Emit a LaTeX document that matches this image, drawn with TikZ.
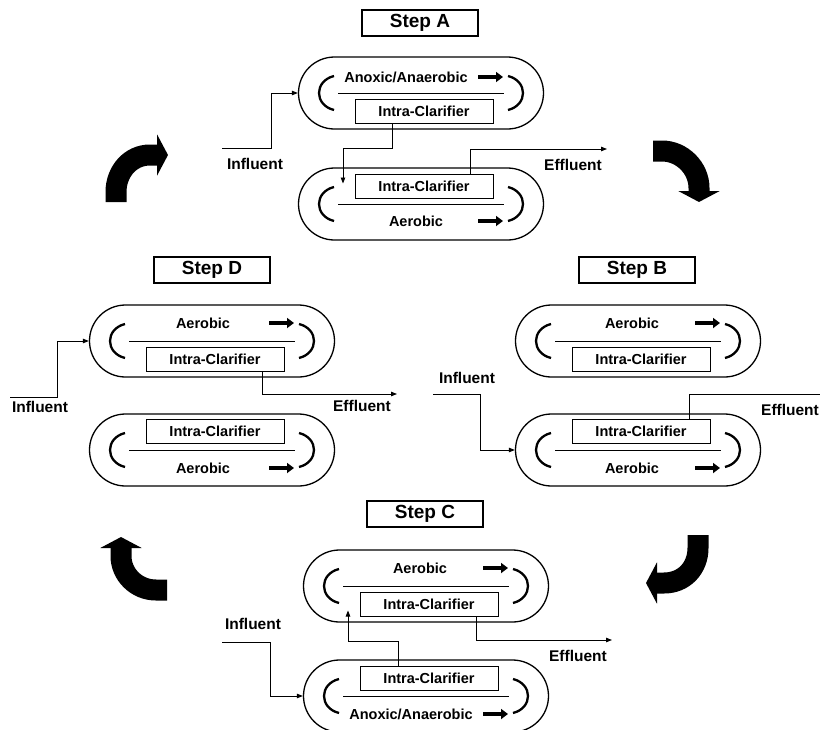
\documentclass[tikz,border=0pt]{standalone}
\usepackage{fontspec}
\setsansfont{Liberation Sans}
\usetikzlibrary{arrows.meta, shapes.misc}

\tikzset{
	basin/.style={
			rounded rectangle,
			draw=black,
			line width=1.3pt,
			minimum width=245pt,
			minimum height=72pt,
			inner sep=0pt
		},
	clarbox/.style={
			draw=black,
			line width=1pt,
			minimum width=138pt,
			minimum height=24pt,
			inner sep=0pt,
			font=\sffamily\bfseries\fontsize{14.5}{16}\selectfont
		},
	stepbox/.style={
			draw=black,
			line width=1.2pt,
			minimum width=116pt,
			minimum height=26pt,
			inner sep=0pt,
			font=\sffamily\bfseries\fontsize{19}{22}\selectfont
		},
	tanktext/.style={font=\sffamily\bfseries\fontsize{14.5}{16}\selectfont, inner sep=0pt},
	flowtext/.style={font=\sffamily\bfseries\fontsize{15.5}{18}\selectfont, inner sep=0pt},
	bracket/.style={line width=2.3pt},
	divider/.style={line width=0.9pt},
	mixarrow/.style={line width=3.5pt, -{Triangle[length=7pt,width=10pt]}},
	flow/.style={line width=0.9pt, -{Triangle[length=6pt,width=4.5pt]}},
	bigarrow/.style={line width=21pt, -{Triangle[length=11pt,width=41pt]}}
}

% basin: name, centre, label, label x, clarifier y, label y
\newcommand{\basin}[6]{%
  \begin{scope}[shift={#2}]
    \node[basin] (#1) at (0,0) {};
    \draw[bracket] (-87,-17) .. controls (-107,-12) and (-107,12) .. (-87,17);
    \draw[bracket] (87,-17) .. controls (107,-12) and (107,12) .. (87,17);
    \draw[divider] (-83,0) -- (83,0);
    \node[clarbox] (cl#1) at (3,#5) {Intra-Clarifier};
    \node[tanktext] (lb#1) at (#4,#6) {#3};
    \draw[mixarrow] (57,#6) -- (82,#6);
  \end{scope}}

\begin{document}
\begin{tikzpicture}[x=1pt, y=-1pt]
  \path[fill=white] (0,0) rectangle (820,729);
  \useasboundingbox (0,0) rectangle (820,729);

  % Step A
  \node[stepbox] (stepA) at (420,23) {Step A};
  \basin{A1}{(421,93)}{Anoxic/Anaerobic}{-15}{18}{-16}
  \basin{A2}{(421,204)}{Aerobic}{-5}{-18}{17}
  \coordinate (inA) at (222,148);
  \coordinate (outA) at (607,149);
  \draw[flow] (inA) -| ([xshift=-26pt]A1.west) -- (A1.west);
  \draw[flow] ([xshift=-32pt]clA1.south) -- ++(0,25) -| ++(-49,35);
  \draw[flow] ([xshift=46pt]clA2.north) |- (outA);
  \node[flowtext] (infA) at (255,164) {Influent};
  \node[flowtext] (effA) at (573,165) {Effluent};

  % Step B
  \node[stepbox] (stepB) at (637,270) {Step B};
  \basin{B1}{(638,341)}{Aerobic}{-6}{18}{-18}
  \basin{B2}{(638,450)}{Aerobic}{-6}{-19}{18}
  \coordinate (inB) at (433,394);
  \coordinate (outB) at (820,394);
  \draw[flow] (inB) -| ([xshift=-34pt]B2.west) -- (B2.west);
  \draw[line width=0.9pt] ([xshift=48pt]clB2.north) |- (outB);
  \node[flowtext] (infB) at (467,378) {Influent};
  \node[flowtext] (effB) at (790,410) {Effluent};

  % Step C
  \node[stepbox] (stepC) at (425,514) {Step C};
  \basin{C1}{(426,586)}{Aerobic}{-6}{18}{-18}
  \basin{C2}{(426,696)}{Anoxic/Anaerobic}{-15}{-18}{18}
  \coordinate (inC) at (222,642);
  \coordinate (outC) at (612,640);
  \draw[flow] (inC) -| ([xshift=-32pt]C2.west) -- (C2.west);
  \draw[flow] ([xshift=-31pt]clC2.north) -- ++(0,-24) -| ++(-50,-31);
  \draw[flow] ([xshift=47pt]clC1.south) |- (outC);
  \node[flowtext] (infC) at (253,624) {Influent};
  \node[flowtext] (effC) at (578,656) {Effluent};

  % Step D
  \node[stepbox] (stepD) at (212,270) {Step D};
  \basin{D1}{(212,341)}{Aerobic}{-9}{18}{-18}
  \basin{D2}{(212,450)}{Aerobic}{-9}{-19}{18}
  \coordinate (inD) at (10,397);
  \coordinate (outD) at (397,394);
  \draw[flow] (inD) -| ([xshift=-31pt]D1.west) -- (D1.west);
  \draw[flow] ([xshift=47pt]clD1.south) |- (outD);
  \node[flowtext] (infD) at (40,407) {Influent};
  \node[flowtext] (effD) at (362,406) {Effluent};

  % cycle arrows
  \draw[bigarrow] (116,202) -- (116,192) .. controls (116,172) and (130,155) .. (150,155) -- (168,155);
  \draw[bigarrow] (653,151) -- (662,151) .. controls (682,151) and (699,168) .. (699,188) -- (699,202);
  \draw[bigarrow] (698,535) -- (698,548) .. controls (698,568) and (684,583) .. (664,583) -- (646,583);
  \draw[bigarrow] (167,590) -- (156,590) .. controls (136,590) and (121,574) .. (121,556) -- (121,537);
\end{tikzpicture}
\end{document}
